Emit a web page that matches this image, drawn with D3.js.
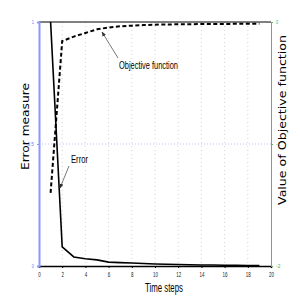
<!DOCTYPE html>
<html>
<head>
<meta charset="utf-8">
<script src="https://cdn.jsdelivr.net/npm/d3@7"></script>
<style>
  body { margin: 0; background: #fff; }
  svg { display: block; }
</style>
</head>
<body>
<svg width="300" height="300"></svg>
<script>
const steps = [1, 2, 3, 4, 5, 6, 7, 8, 9, 10, 11, 12, 13, 14, 15, 16, 17, 18, 19]
const errorValues = [1.0, 0.078, 0.037, 0.03, 0.025, 0.016, 0.014, 0.012, 0.01, 0.008, 0.007, 0.006, 0.005, 0.004, 0.004, 0.003, 0.003, 0.002, 0.002]
const objectiveValues = [-1.4, -0.156, -0.12, -0.09, -0.06, -0.045, -0.035, -0.03, -0.025, -0.022, -0.02, -0.019, -0.018, -0.017, -0.016, -0.016, -0.015, -0.015, -0.015]
const xTicks = [0, 2, 4, 6, 8, 10, 12, 14, 16, 18, 20]
const leftTicks = [0, 0.5, 1]
const rightTicks = [0, -1, -2]

const svg = d3.select("svg")
const pL = 39, pR = 271, pT = 22, pB = 266
const narrow = "'Liberation Sans', Arial, sans-serif"
const wide = "'DejaVu Sans', sans-serif"

const x = d3.scaleLinear().domain([0, 20]).range([pL, pR])
const yErr = d3.scaleLinear().domain([0, 1]).range([pB, pT])
const yObj = d3.scaleLinear().domain([-2, 0]).range([pB, pT])

svg.append("rect").attr("width", 300).attr("height", 300).attr("fill", "#fff")

// grid
svg.append("g").selectAll("line")
  .data(xTicks.filter(d => d > 0 && d < 20))
  .enter().append("line")
  .attr("x1", d => x(d)).attr("x2", d => x(d))
  .attr("y1", pT).attr("y2", pB)
  .attr("stroke", "#c8c8c8").attr("stroke-width", 0.8)
  .attr("stroke-dasharray", "1,3")

svg.append("line")
  .attr("x1", pL).attr("x2", pR)
  .attr("y1", yErr(0.5)).attr("y2", yErr(0.5))
  .attr("stroke", "#aab4ff").attr("stroke-width", 0.8)
  .attr("stroke-dasharray", "1,2")

// frame
svg.append("line").attr("x1", pL).attr("x2", pR).attr("y1", pT).attr("y2", pT)
  .attr("stroke", "#000").attr("stroke-width", 1)

const defs = svg.append("defs")
defs.append("clipPath").attr("id", "plot")
  .append("rect").attr("x", pL).attr("y", pT - 1).attr("width", pR - pL).attr("height", pB - pT + 2)

// lines
const errLine = d3.line().x((d, i) => x(steps[i])).y(d => yErr(d))
const objLine = d3.line().x((d, i) => x(steps[i])).y(d => yObj(d))

svg.append("path").datum(objectiveValues)
  .attr("d", objLine).attr("fill", "none")
  .attr("stroke", "#000").attr("stroke-width", 2)
  .attr("stroke-dasharray", "4,2.5")
  .attr("clip-path", "url(#plot)")

svg.append("path").datum(errorValues)
  .attr("d", errLine).attr("fill", "none")
  .attr("stroke", "#000").attr("stroke-width", 1.6)
  .attr("clip-path", "url(#plot)")

// squeeze narrow tick labels
function squeeze(sel, w) {
  sel.each(function () {
    const t = d3.select(this)
    t.attr("textLength", t.text().length * w).attr("lengthAdjust", "spacingAndGlyphs")
  })
}

// x axis
const xAxis = svg.append("g").attr("transform", `translate(0,${pB})`)
  .call(d3.axisBottom(x).tickValues(xTicks).tickSize(2).tickFormat(d => String(d)))
xAxis.select(".domain").attr("stroke", "#000").attr("stroke-width", 1.5)
xAxis.selectAll(".tick line").attr("stroke", "#000")
xAxis.selectAll("text").attr("font-family", narrow).attr("font-size", 7).attr("fill", "#222").attr("dy", "0.9em")
  .call(squeeze, 2.5)

// left axis (blue)
const lAxis = svg.append("g").attr("transform", `translate(${pL},0)`)
  .call(d3.axisLeft(yErr).tickValues(leftTicks).tickSize(2).tickFormat(d => String(d)))
lAxis.select(".domain").attr("stroke", "#8c96ff").attr("stroke-width", 2)
lAxis.selectAll(".tick line").attr("stroke", "#8c96ff")
lAxis.selectAll("text").attr("font-family", narrow).attr("font-size", 6).attr("fill", "#6f78ff")
  .call(squeeze, 2.2)

// right axis (green)
const rAxis = svg.append("g").attr("transform", `translate(${pR},0)`)
  .call(d3.axisRight(yObj).tickValues(rightTicks).tickSize(2).tickFormat(d => String(d)))
rAxis.select(".domain").attr("stroke", "#5cb85c").attr("stroke-width", 1)
rAxis.selectAll(".tick line").attr("stroke", "#5cb85c")
rAxis.selectAll("text").attr("font-family", narrow).attr("font-size", 6).attr("fill", "#4caf50")
  .call(squeeze, 2.2)

// axis titles
svg.append("text").text("Time steps")
  .attr("x", 145).attr("y", 292)
  .attr("textLength", 38).attr("lengthAdjust", "spacingAndGlyphs")
  .attr("font-family", narrow).attr("font-size", 12)

svg.append("text").text("Error measure")
  .attr("transform", "translate(29,170) rotate(-90)")
  .attr("textLength", 87).attr("lengthAdjust", "spacingAndGlyphs")
  .attr("font-family", wide).attr("font-size", 10)

svg.append("text").text("Value of Objective function")
  .attr("transform", "translate(286,205) rotate(-90)")
  .attr("textLength", 170).attr("lengthAdjust", "spacingAndGlyphs")
  .attr("font-family", wide).attr("font-size", 10)

// annotations
defs.append("marker").attr("id", "arrow")
  .attr("viewBox", "0 0 10 10").attr("refX", 9).attr("refY", 5)
  .attr("markerWidth", 6).attr("markerHeight", 6).attr("orient", "auto")
  .append("path").attr("d", "M0,1 L10,5 L0,9 Z").attr("fill", "#333")

svg.append("line")
  .attr("x1", 118).attr("y1", 58).attr("x2", 102).attr("y2", 32)
  .attr("stroke", "#555").attr("stroke-width", 0.8).attr("marker-end", "url(#arrow)")
svg.append("text").text("Objective function")
  .attr("x", 119).attr("y", 69)
  .attr("textLength", 59).attr("lengthAdjust", "spacingAndGlyphs")
  .attr("font-family", narrow).attr("font-size", 11)

svg.append("line")
  .attr("x1", 69).attr("y1", 166).attr("x2", 60).attr("y2", 188)
  .attr("stroke", "#555").attr("stroke-width", 0.8).attr("marker-end", "url(#arrow)")
svg.append("text").text("Error")
  .attr("x", 71).attr("y", 163)
  .attr("textLength", 17).attr("lengthAdjust", "spacingAndGlyphs")
  .attr("font-family", narrow).attr("font-size", 11)
</script>
</body>
</html>
